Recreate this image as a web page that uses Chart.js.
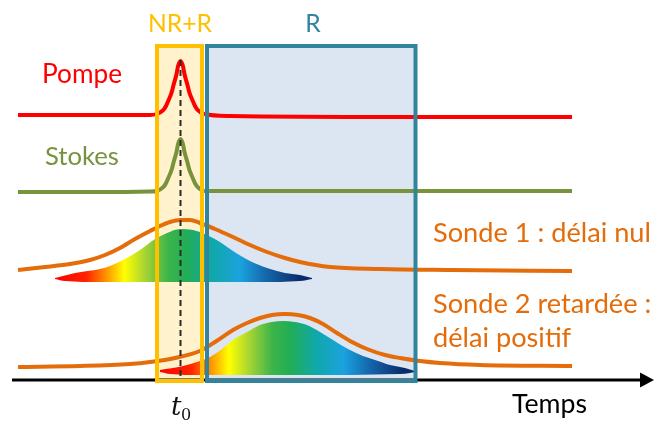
<!DOCTYPE html>
<html>
<head>
<meta charset="utf-8">
<script src="https://cdn.jsdelivr.net/npm/chart.js@4/dist/chart.umd.min.js"></script>
<style>
  html, body { margin: 0; padding: 0; background: #fff; }
  #wrap { width: 654px; height: 421px; }
</style>
</head>
<body>
<div id="wrap"><canvas id="chart" width="654" height="421"></canvas></div>
<script>
// ---- data (x = time, y = vertical position, both in picture units) ----
const pompeT = [18, 100, 150, 156.5, 163.5, 166, 168.5, 171.5, 174, 176.5, 178, 180.5, 183, 184.5, 187, 189.5, 192.5, 195, 197.5, 204.5, 230, 400, 572];
const pompeY = [115, 115, 115, 114, 109.8, 106, 100.2, 92.8, 83.3, 74.3, 66.3, 61, 66.3, 74.3, 83.3, 92.8, 100.2, 106, 109.8, 114, 116, 117, 117];

const stokesT = [18, 100, 150, 156.5, 163.5, 166, 168.5, 171.5, 174, 176.5, 178, 180.5, 183, 184.5, 187, 189.5, 192.5, 195, 197.5, 204.5, 230, 400, 572];
const stokesY = [192, 192, 191.5, 191, 186.8, 183.2, 177.5, 170.2, 160.8, 152, 144.2, 139, 144.2, 152, 160.8, 170.2, 177.5, 183.2, 186.8, 191, 191, 191, 191];

const sonde1T = [18, 45, 70, 90, 105, 120, 135, 150, 160, 170, 180, 190, 200, 215, 233, 250, 267, 285, 300, 330, 380, 450, 572];
const sonde1Y = [270, 267, 264, 260, 255, 248, 239, 231, 226, 222, 220, 220, 223, 229, 237, 245, 252, 258, 262, 267, 269, 270, 271];

const spec1TopT = [55, 75, 100, 110, 125, 140, 155, 167, 180, 193, 207, 220, 233, 250, 267, 285, 300, 312];
const spec1TopY = [278, 273, 269, 266, 259, 250, 239, 233, 229, 230, 235, 242, 251, 261, 268, 273, 275, 278];
const spec1BotT = [55, 65, 100, 180, 260, 300, 312];
const spec1BotY = [279, 281, 282, 282, 282, 281, 279];

const sonde2T = [18, 80, 130, 150, 175, 200, 215, 233, 247, 260, 272, 285, 298, 310, 323, 337, 352, 367, 385, 400, 420, 440, 480, 572];
const sonde2Y = [367, 366, 364, 362, 358, 351, 342, 330, 323, 318, 315, 314, 315, 318, 324, 333, 342, 349, 355, 358, 361, 363, 365, 366];

const spec2TopT = [160, 183, 200, 210, 222, 233, 247, 260, 272, 283, 295, 307, 320, 333, 348, 363, 375, 390, 405, 415];
const spec2TopY = [370, 366, 361, 357, 349, 340, 332, 325, 322, 321, 322, 325, 332, 340, 349, 356, 360, 365, 368, 371];
const spec2BotT = [160, 170, 200, 300, 400, 410, 415];
const spec2BotY = [372, 374, 375, 375, 374, 373, 372];

// time windows: [t start, t end]
const windowNR = [157, 202];
const windowR = [207, 415.5];
const windowTop = 46;
const windowBottom = 381;
const t0 = 180.5;

// spectral colours of the chirped probe, from its leading to trailing edge
const spectrumStops = [0, 0.12, 0.2, 0.27, 0.35, 0.44, 0.51, 0.61, 0.72, 0.82, 0.95];
const spectrumColors = ['#ff0000', '#ff2200', '#ff9400', '#ffff00', '#a8d433', '#3cb54a', '#22ad55',
                        '#10a8a8', '#1ba2df', '#1468ac', '#0b2c6c'];

const zip = (xs, ys) => xs.map((x, i) => ({ x, y: ys[i] }));

function spectrumFill(t1, t2) {
    return (ctx) => {
        const chart = ctx.chart;
        if (!chart.chartArea) return 'rgba(0,0,0,0)';
        const xs = chart.scales.x;
        const g = chart.ctx.createLinearGradient(xs.getPixelForValue(t1), 0, xs.getPixelForValue(t2), 0);
        spectrumStops.forEach((s, i) => g.addColorStop(s, spectrumColors[i]));
        return g;
    };
}

const line = (data, color, order) => ({
    data, borderColor: color, borderWidth: 4, pointRadius: 0,
    cubicInterpolationMode: 'monotone', fill: false, order
});

// fonds des fenêtres (sous les courbes)
const windowFill = {
    id: 'windowFill',
    beforeDatasetsDraw(chart) {
        const { ctx, scales: { x, y } } = chart;
        const top = y.getPixelForValue(windowTop), bot = y.getPixelForValue(windowBottom);
        ctx.save();
        ctx.fillStyle = '#fff2cc';
        ctx.fillRect(x.getPixelForValue(windowNR[0]), top, x.getPixelForValue(windowNR[1]) - x.getPixelForValue(windowNR[0]), bot - top);
        ctx.fillStyle = '#dce6f2';
        ctx.fillRect(x.getPixelForValue(windowR[0]), top, x.getPixelForValue(windowR[1]) - x.getPixelForValue(windowR[0]), bot - top);
        ctx.restore();
    }
};

function fitFont(ctx, text, family, targetWidth, style) {
    ctx.font = (style || '') + ' 100px ' + family;
    return 100 * targetWidth / ctx.measureText(text).width;
}

// cadres, t0, axe et textes (au-dessus)
const overlay = {
    id: 'overlay',
    afterDatasetsDraw(chart) {
        const { ctx, scales: { x, y } } = chart;
        const top = y.getPixelForValue(windowTop), bot = y.getPixelForValue(windowBottom);
        ctx.save();

        // dashed t0
        ctx.strokeStyle = '#2a2a2a';
        ctx.lineWidth = 2;
        ctx.setLineDash([6, 4]);
        ctx.beginPath();
        ctx.moveTo(x.getPixelForValue(t0), y.getPixelForValue(60));
        ctx.lineTo(x.getPixelForValue(t0), y.getPixelForValue(379));
        ctx.stroke();
        ctx.setLineDash([]);

        // time axis + arrow
        const ay = y.getPixelForValue(380);
        ctx.strokeStyle = '#000';
        ctx.lineWidth = 3;
        ctx.beginPath();
        ctx.moveTo(x.getPixelForValue(12), ay);
        ctx.lineTo(x.getPixelForValue(644), ay);
        ctx.stroke();
        ctx.fillStyle = '#000';
        ctx.beginPath();
        ctx.moveTo(x.getPixelForValue(654), ay);
        ctx.lineTo(x.getPixelForValue(640), ay - 7.5);
        ctx.lineTo(x.getPixelForValue(640), ay + 7.5);
        ctx.closePath();
        ctx.fill();

        // window frames
        ctx.lineWidth = 4;
        ctx.strokeStyle = '#ffc000';
        ctx.strokeRect(x.getPixelForValue(windowNR[0]), top, x.getPixelForValue(windowNR[1]) - x.getPixelForValue(windowNR[0]), bot - top);
        ctx.strokeStyle = '#31849b';
        ctx.strokeRect(x.getPixelForValue(windowR[0]), top, x.getPixelForValue(windowR[1]) - x.getPixelForValue(windowR[0]), bot - top);

        // labels
        const fam = 'Lato, "Open Sans", sans-serif';
        ctx.textBaseline = 'alphabetic';
        ctx.textAlign = 'left';
        const put = (text, px, base, color, size) => {
            ctx.font = size + 'px ' + fam;
            ctx.fillStyle = color;
            ctx.fillText(text, px, base);
        };
        const sTitle = fitFont(ctx, 'NR+R', fam, 64);
        put('NR+R', 148, 32, '#ffc000', sTitle);
        ctx.font = sTitle + 'px ' + fam;
        put('R', 313 - ctx.measureText('R').width / 2, 32, '#31849b', sTitle);

        put('Pompe', 42, 83, '#ff0000', fitFont(ctx, 'Pompe', fam, 80));
        put('Stokes', 45, 165, '#77933c', fitFont(ctx, 'Stokes', fam, 74));

        const sSonde = fitFont(ctx, 'Sonde 1 : délai nul', fam, 218);
        put('Sonde 1 : délai nul', 433, 242, '#e46c0a', sSonde);
        put('Sonde 2 retardée :', 433, 313, '#e46c0a', sSonde);
        put('délai positif', 433, 347, '#e46c0a', sSonde);

        put('Temps', 512, 413, '#000', fitFont(ctx, 'Temps', fam, 75));

        // t0
        ctx.fillStyle = '#111';
        ctx.font = 'italic 26px "DejaVu Serif", serif';
        ctx.fillText('t', 171, 415);
        ctx.font = '16px "DejaVu Serif", serif';
        ctx.fillText('0', 181, 420);

        ctx.restore();
    }
};

new Chart(document.getElementById('chart'), {
    type: 'line',
    data: {
        datasets: [
            line(zip(pompeT, pompeY), '#ff0000', 1),
            line(zip(stokesT, stokesY), '#77933c', 2),
            line(zip(sonde1T, sonde1Y), '#e46c0a', 3),
            line(zip(sonde2T, sonde2Y), '#e46c0a', 4),
            { data: zip(spec1TopT, spec1TopY), borderWidth: 0, pointRadius: 0, cubicInterpolationMode: 'monotone',
              fill: '+1', backgroundColor: spectrumFill(55, 312), order: 5 },
            { data: zip(spec1BotT, spec1BotY), borderWidth: 0, pointRadius: 0, cubicInterpolationMode: 'monotone',
              fill: false, order: 6 },
            { data: zip(spec2TopT, spec2TopY), borderWidth: 0, pointRadius: 0, cubicInterpolationMode: 'monotone',
              fill: '+1', backgroundColor: spectrumFill(160, 415), order: 7 },
            { data: zip(spec2BotT, spec2BotY), borderWidth: 0, pointRadius: 0, cubicInterpolationMode: 'monotone',
              fill: false, order: 8 }
        ]
    },
    options: {
        responsive: false,
        animation: false,
        layout: { padding: 0 },
        scales: {
            x: { type: 'linear', min: 0, max: 654, display: false },
            y: { type: 'linear', min: 0, max: 421, reverse: true, display: false }
        },
        plugins: { legend: { display: false }, tooltip: { enabled: false } }
    },
    plugins: [windowFill, overlay]
});
</script>
</body>
</html>
